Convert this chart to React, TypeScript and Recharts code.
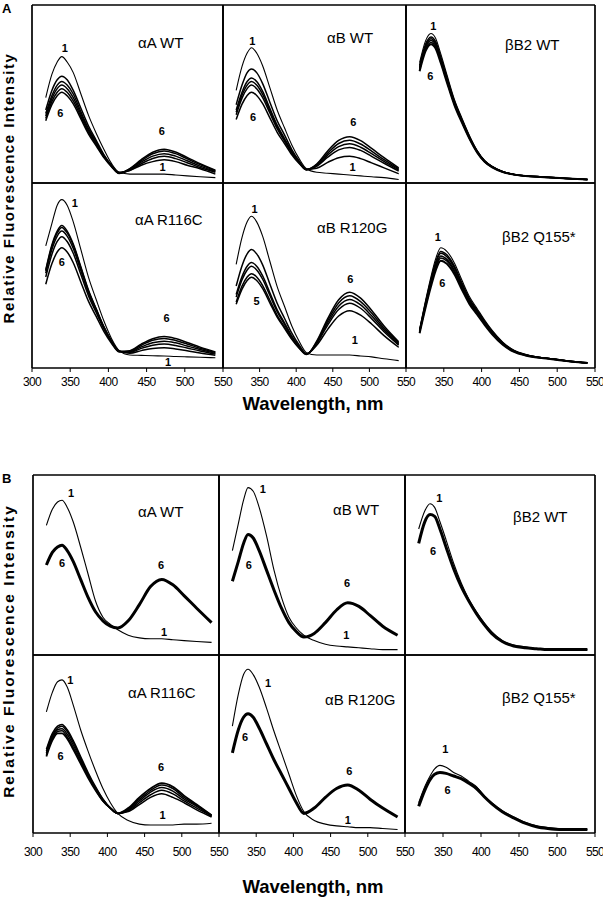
import { LineChart, Line, XAxis, YAxis, ReferenceDot } from "recharts"

const WL = [318, 326, 333, 339, 346, 354, 364, 374, 384, 394, 404, 414, 428, 443, 458, 473, 488, 503, 520, 540]
const X_TICKS_FIRST = [300, 350, 400, 450, 500, 550]
const X_TICKS_REST = [350, 400, 450, 500, 550]

// intensities as % of panel height, curves 1..6
// panel A
const A_aA_WT = [
  [48, 61, 68, 71, 68, 62, 50, 38, 28, 19, 11, 6, 5, 5, 5, 5, 4.5, 4, 3.5, 3],
  [41, 52, 58, 60, 58, 52, 42, 32, 24, 16, 10, 6, 7, 10, 12, 13, 12, 10, 8, 5],
  [39, 49, 55, 57, 55, 50, 40, 30.5, 23, 15.7, 9.8, 5.6, 7.2, 10.8, 13.8, 15, 13.7, 11.4, 8.7, 6],
  [37.7, 47.4, 53, 55, 53, 48, 38.7, 29.5, 22.4, 15.2, 9.6, 5.5, 7.5, 11.7, 15.1, 16.5, 15.1, 12.5, 9.5, 6.5],
  [36.3, 45.7, 51, 53, 51, 46.1, 37.3, 28.5, 21.6, 14.8, 9.4, 5.5, 7.9, 12.5, 16.4, 18, 16.5, 13.6, 10.3, 6.9],
  [35, 44, 49, 51, 49, 44.4, 36, 27.5, 20.9, 14.3, 9.2, 5.4, 8.1, 13.1, 17.3, 19, 17.4, 14.4, 10.8, 7.2],
]
const A_aB_WT = [
  [52, 65.5, 73, 76, 73, 66, 53.6, 41, 31, 21.4, 13.7, 8, 6, 5.5, 5, 4.5, 4, 3.5, 3, 2],
  [44, 55, 62, 64, 62, 56, 45.4, 35, 27, 18.8, 12.4, 7.7, 8.3, 11.6, 14.2, 15, 13.7, 11.3, 8.5, 5.2],
  [41, 51, 57, 59, 57, 51.6, 42, 32.5, 25, 17.7, 11.8, 7.6, 9.4, 14.5, 18.6, 20, 18.3, 15, 11.1, 6.7],
  [39.7, 49.4, 55, 57, 55, 49.9, 40.7, 31.5, 24.4, 17.2, 11.6, 7.5, 9.9, 15.7, 20.4, 22, 20.1, 16.5, 12.1, 7.3],
  [38.3, 47.7, 53, 55, 53, 48.1, 39.3, 30.5, 23.6, 16.8, 11.4, 7.5, 10.3, 16.8, 22.2, 24, 21.9, 17.9, 13.1, 7.9],
  [35.7, 44.3, 49.2, 51, 49.2, 44.7, 36.6, 28.5, 22.2, 15.9, 11, 7.4, 10.7, 18, 23.9, 26, 23.8, 19.4, 14.2, 8.5],
]
const A_bB2_WT = [
  [67.6, 80, 84, 81.5, 72.5, 61, 47, 36.4, 26.6, 18.4, 12.7, 9.4, 6.5, 4.9, 4, 3.6, 3.2, 2.8, 2.4, 2],
  [66, 78, 82, 79.6, 70.8, 59.6, 46, 35.6, 26, 18, 12.4, 9.2, 6.4, 4.8, 4, 3.6, 3.2, 2.8, 2.4, 2],
  [65.2, 77, 81, 78.6, 70, 58.9, 45.5, 35.2, 25.7, 17.8, 12.3, 9.1, 6.3, 4.8, 4, 3.6, 3.2, 2.8, 2.4, 2],
  [64.4, 76.1, 80, 77.7, 69.1, 58.2, 44.9, 34.8, 25.4, 17.6, 12.1, 9, 6.3, 4.7, 4, 3.6, 3.2, 2.8, 2.4, 2],
  [63.6, 75.2, 79, 76.7, 68.2, 57.4, 44.4, 34.3, 25.1, 17.4, 12, 8.9, 6.2, 4.7, 3.9, 3.5, 3.1, 2.8, 2.4, 2],
  [62.8, 74.2, 78, 75.7, 67.4, 56.7, 43.8, 33.9, 24.8, 17.2, 11.9, 8.8, 6.2, 4.7, 3.9, 3.5, 3.1, 2.8, 2.4, 2],
]
const A_aA_R116C = [
  [66, 78, 88, 91, 88, 79, 64, 49, 37, 25.5, 16, 9.5, 7, 6.8, 6.6, 6.5, 6.2, 6, 5.8, 5.5],
  [53, 66.5, 74, 77, 74, 67, 54.6, 42, 32, 22.4, 14.7, 9.1, 8, 9.4, 10.6, 11, 10.3, 9.3, 8.1, 6.9],
  [52.5, 65.7, 73, 76, 73, 66.3, 54, 41.5, 31.8, 22.2, 14.6, 9.1, 8.4, 10.6, 12.3, 13, 12.2, 10.8, 9.2, 7.5],
  [51.2, 64, 71.3, 74, 71.3, 64.6, 52.6, 40.5, 31.1, 21.7, 14.4, 9, 8.8, 11.4, 13.6, 14.5, 13.6, 11.9, 10, 7.9],
  [49.2, 61.4, 68.4, 71, 68.4, 62, 50.5, 39, 30, 21.1, 14, 8.9, 9.1, 12.3, 15, 16, 14.9, 13, 10.7, 8.4],
  [45.3, 56.3, 62.7, 65, 62.7, 56.9, 46.4, 36, 27.9, 19.8, 13.4, 8.7, 9.3, 12.9, 15.8, 17, 15.9, 13.8, 11.3, 8.7],
]
const A_aB_R120G = [
  [56, 70.6, 79, 82, 79, 71.4, 57.7, 44, 33.4, 22.7, 14.4, 8.3, 7, 7, 7, 7, 6.5, 6, 5, 4],
  [44.3, 55.3, 61.7, 64, 61.7, 55.9, 45.4, 35, 26.9, 18.8, 12.4, 7.7, 12.3, 20.9, 28.1, 31, 28.6, 23.8, 17.5, 11.2],
  [39.7, 49.4, 55, 57, 55, 49.9, 40.7, 31.5, 24.4, 17.2, 11.6, 7.5, 13.2, 23.2, 31.6, 35, 32.3, 26.7, 19.6, 12.4],
  [38.3, 47.7, 53, 55, 53, 48.1, 39.3, 30.5, 23.6, 16.8, 11.4, 7.5, 13.6, 24.4, 33.4, 37, 34.1, 28.2, 20.6, 13],
  [35.7, 44.3, 49.2, 51, 49.2, 44.7, 36.6, 28.5, 22.2, 15.9, 11, 7.4, 14, 25.6, 35.2, 39, 35.9, 29.7, 21.6, 13.6],
  [34.4, 42.6, 47.3, 49, 47.3, 43, 35.2, 27.5, 21.5, 15.5, 10.7, 7.3, 14.5, 26.7, 36.9, 41, 37.8, 31.2, 22.7, 14.2],
]
const A_bB2_Q155 = [
  [20.9, 36.7, 49.3, 58.7, 65, 63.1, 56.8, 47.4, 38.5, 32.2, 25.9, 20.3, 14, 9.6, 7.4, 6, 5.3, 4.5, 3.6, 2.8],
  [20.3, 35.6, 47.8, 56.9, 63, 61.2, 55.1, 45.9, 37.4, 31.3, 25.2, 19.7, 13.6, 9.3, 7.2, 5.9, 5.2, 4.4, 3.5, 2.8],
  [20, 35, 47, 56, 62, 60.2, 54.2, 45.2, 36.8, 30.8, 24.8, 19.4, 13.4, 9.2, 7.1, 5.9, 5.2, 4.4, 3.5, 2.8],
  [19.6, 34.2, 45.9, 54.7, 60.5, 58.7, 52.9, 44.1, 35.9, 30.1, 24.2, 19, 13.1, 9, 7, 5.8, 5.1, 4.3, 3.5, 2.8],
  [19.3, 33.6, 45.1, 53.8, 59.5, 57.8, 52, 43.4, 35.4, 29.6, 23.9, 18.7, 12.9, 8.9, 6.9, 5.8, 5.1, 4.3, 3.4, 2.7],
  [18.8, 32.8, 44, 52.4, 58, 56.3, 50.7, 42.3, 34.5, 28.9, 23.3, 18.2, 12.6, 8.7, 6.8, 5.7, 5, 4.2, 3.4, 2.7],
]

// panel B (curves 2-5 sit on top of 6 except in aA R116C)
const B_aA_WT = [
  [72, 81, 85, 86, 82, 74, 60, 45, 30, 21, 17, 14, 11, 9.5, 9, 9, 8.5, 8, 7.5, 7],
  [50, 57, 60, 61, 58, 52, 42, 32, 24, 19, 16, 15, 19, 28, 38, 42, 39, 33, 26, 18],
]
const B_aB_WT = [
  [58, 73, 86, 93, 91, 82, 66, 47, 32, 21, 15, 11, 8, 6, 5, 4.5, 4, 3.5, 3, 3],
  [41, 52, 62, 67, 65, 58, 47, 36, 26, 18, 13, 10, 12, 18, 25, 29, 27, 22, 16, 11],
]
const B_bB2_WT = [
  [70, 80, 84, 82, 74, 64, 51, 40, 31, 24, 18, 13, 8, 5.5, 4.5, 3.5, 3, 3, 3, 3],
  [62, 74, 78, 77, 70, 60, 48, 38, 30, 23, 17, 12, 7.5, 5, 4, 3.5, 3, 3, 3, 3],
]
const B_aA_R116C = [
  [68, 79, 85, 86, 82, 72, 58, 46, 35, 25, 17, 11, 7, 5, 4.5, 4.5, 4.5, 5, 5, 5.5],
  [47, 56, 60, 61, 58, 52, 43, 34, 26, 19, 14, 11, 12, 16, 20, 22, 20, 17, 13, 9],
  [46, 55, 59, 60, 57, 51, 42, 33, 25.5, 19, 14, 11, 12.5, 17, 21.5, 24, 22, 18, 14, 9.5],
  [45, 54, 58, 58.5, 55.5, 49.5, 41, 32.5, 25, 18.5, 14, 11, 13, 18, 23, 25.5, 23.5, 19, 15, 9.5],
  [44, 53, 57, 57.5, 54, 48, 40, 32, 24.5, 18, 14, 11, 13.5, 19, 24, 27, 25, 20, 15.5, 10],
  [43, 52, 56, 56, 53, 47, 39, 31, 24, 18, 14, 11, 14, 20, 25, 28, 26, 21, 16, 10],
]
const B_aB_R120G = [
  [60, 78, 89, 92, 89, 82, 70, 57, 45, 33, 21, 12, 7, 5, 4, 3.5, 3, 3, 2.5, 2],
  [45, 58, 65, 67, 65, 59, 50, 41, 33, 25, 17, 11, 14, 20, 25, 27, 24, 19, 14, 9],
]
const B_bB2_Q155 = [
  [17, 26, 32, 36, 38, 37, 34, 32, 29, 26, 21, 17, 12.5, 9, 6, 4, 3, 2.5, 2, 2],
  [15, 24, 30, 33, 34, 33.5, 32, 30.5, 28, 25, 20.5, 16.5, 12, 8.5, 5.5, 3.5, 2.5, 2, 2, 2],
]

// curve number labels: [text, nm, %]
type Note = [string, number, number]
const N_A_aA_WT: Note[] = [["1", 343, 76], ["6", 337, 39], ["6", 470, 29], ["1", 471, 9]]
const N_A_aB_WT: Note[] = [["1", 340, 80], ["6", 341, 37], ["6", 478, 34], ["1", 477, 9]]
const N_A_bB2_WT: Note[] = [["1", 336, 88], ["6", 332, 60]]
const N_A_aA_R116C: Note[] = [["1", 356, 89], ["6", 339, 57], ["6", 476, 27], ["1", 478, 3]]
const N_A_aB_R120G: Note[] = [["1", 343, 86], ["5", 346, 36], ["6", 474, 48], ["1", 480, 15]]
const N_A_bB2_Q155: Note[] = [["1", 342, 71], ["6", 348, 46]]
const N_B_aA_WT: Note[] = [["1", 351, 90], ["6", 339, 51], ["6", 472, 50], ["1", 476, 13]]
const N_B_aB_WT: Note[] = [["1", 359, 92], ["6", 340, 50], ["6", 472, 40], ["1", 471, 11]]
const N_B_bB2_WT: Note[] = [["1", 345, 87], ["6", 337, 58]]
const N_B_aA_R116C: Note[] = [["1", 350, 86], ["6", 337, 43], ["6", 472, 37], ["1", 474, 10]]
const N_B_aB_R120G: Note[] = [["1", 366, 84], ["6", 335, 54], ["6", 475, 35], ["1", 473, 7]]
const N_B_bB2_Q155: Note[] = [["1", 353, 47], ["6", 356, 24]]

const TITLES = ["αA WT", "αB WT", "βB2 WT", "αA R116C", "αB R120G", "βB2 Q155*"]

const ML = 14
const PL = 8
const PT = 2
const PR = 14
const INK = "#000"
const SANS = "'Liberation Sans', Arial, sans-serif"

type PanelProps = {
  box: [number, number, number, number]
  curves: number[][]
  notes: Note[]
  yTicks: number[]
  bottom: boolean
  first: boolean
  tickGap: number
  thick: number
}

function Spectrum({ box, curves, notes, yTicks, bottom, first, tickGap, thick }: PanelProps) {
  const [x0, y0, x1, y1] = box
  const w = x1 - x0
  const h = y1 - y0
  const xh = bottom ? 30 : 1
  const rows = WL.map((wl, i) => {
    const r: Record<string, number> = { wl }
    curves.forEach((c, k) => (r["c" + (k + 1)] = c[i]))
    return r
  })
  const line = { stroke: INK, strokeWidth: 1.7 }
  return (
    <div style={{ position: "absolute", left: x0 - PL - ML, top: y0 - PT - 1 }}>
      <LineChart
        width={ML + PL + w + 1 + PR}
        height={PT + 1 + h + xh + 2}
        data={rows}
        margin={{ top: PT, right: PR, bottom: 2, left: ML }}
      >
        <XAxis
          dataKey="wl"
          type="number"
          domain={[300, 550]}
          ticks={first ? X_TICKS_FIRST : X_TICKS_REST}
          interval={0}
          height={xh}
          axisLine={line}
          tickLine={bottom ? { stroke: INK } : false}
          tickSize={4}
          tickMargin={tickGap}
          tick={bottom ? { fill: INK, fontSize: 12, fontFamily: SANS, letterSpacing: -0.6 } : false}
          allowDataOverflow
        />
        <XAxis xAxisId="top" orientation="top" type="number" domain={[300, 550]} height={1} axisLine={line} tick={false} tickLine={false} />
        <YAxis
          type="number"
          domain={[0, 100]}
          ticks={yTicks}
          interval={0}
          width={PL}
          axisLine={line}
          tickLine={{ stroke: INK }}
          tickSize={4}
          tick={false}
          allowDataOverflow
        />
        <YAxis yAxisId="right" orientation="right" type="number" domain={[0, 100]} width={1} axisLine={line} tick={false} tickLine={false} />
        {curves.map((_, k) => (
          <Line
            key={k}
            dataKey={"c" + (k + 1)}
            type="monotone"
            dot={false}
            stroke={INK}
            strokeWidth={k === 0 ? 1.1 : k === curves.length - 1 ? thick : 1.5}
            isAnimationActive={false}
          />
        ))}
        {notes.map(([t, x, y], i) => (
          <ReferenceDot
            key={"n" + i}
            x={x}
            y={y}
            r={0}
            fill="none"
            stroke="none"
            ifOverflow="visible"
            label={{ value: t, position: "center", fontSize: 11, fontWeight: 700, fontFamily: SANS, fill: INK }}
          />
        ))}
      </LineChart>
    </div>
  )
}

const A_COLS: [number, number][] = [[32, 223], [223, 406], [406, 595]]
const A_ROWS: [number, number][] = [[5, 183], [183, 368]]
const B_COLS: [number, number][] = [[33, 219], [219, 405], [405, 595]]
const B_ROWS: [number, number][] = [[475, 655], [655, 833]]

const PANELS = [
  { curves: A_aA_WT, notes: N_A_aA_WT, col: 0, row: 0, set: "A", y: [0, 20, 40, 60, 80], thick: 1.5 },
  { curves: A_aB_WT, notes: N_A_aB_WT, col: 1, row: 0, set: "A", y: [0, 20, 40, 60, 80], thick: 1.5 },
  { curves: A_bB2_WT, notes: N_A_bB2_WT, col: 2, row: 0, set: "A", y: [0, 14.6, 29.2, 43.8, 58.4, 73, 87.6], thick: 2 },
  { curves: A_aA_R116C, notes: N_A_aA_R116C, col: 0, row: 1, set: "A", y: [0, 19.5, 39, 58.5, 78], thick: 1.5 },
  { curves: A_aB_R120G, notes: N_A_aB_R120G, col: 1, row: 1, set: "A", y: [0, 19.5, 39, 58.5, 78], thick: 1.5 },
  { curves: A_bB2_Q155, notes: N_A_bB2_Q155, col: 2, row: 1, set: "A", y: [0, 28, 56, 84], thick: 2 },
  { curves: B_aA_WT, notes: N_B_aA_WT, col: 0, row: 0, set: "B", y: [0, 33.3, 66.7], thick: 3 },
  { curves: B_aB_WT, notes: N_B_aB_WT, col: 1, row: 0, set: "B", y: [0, 33.3, 66.7], thick: 3 },
  { curves: B_bB2_WT, notes: N_B_bB2_WT, col: 2, row: 0, set: "B", y: [0, 33.3, 66.7], thick: 3 },
  { curves: B_aA_R116C, notes: N_B_aA_R116C, col: 0, row: 1, set: "B", y: [0, 25, 50, 75], thick: 1.8 },
  { curves: B_aB_R120G, notes: N_B_aB_R120G, col: 1, row: 1, set: "B", y: [0, 25, 50, 75], thick: 3 },
  { curves: B_bB2_Q155, notes: N_B_bB2_Q155, col: 2, row: 1, set: "B", y: [0, 25, 50, 75], thick: 3 },
]

// title anchors (left x, baseline y), same order as PANELS
const TITLE_POS: [number, number][] = [
  [138, 48], [327, 43], [505, 50], [135, 225], [317, 233], [502, 242],
  [138, 517], [333, 515], [513, 522], [128, 698], [325, 705], [502, 703],
]

export default function App() {
  return (
    <div style={{ position: "absolute", left: 0, top: 0, width: 603, height: 900, background: "#fff", overflow: "hidden" }}>
      {PANELS.map((p, i) => {
        const cols = p.set === "A" ? A_COLS : B_COLS
        const rows = p.set === "A" ? A_ROWS : B_ROWS
        const [x0, x1] = cols[p.col]
        const [y0, y1] = rows[p.row]
        return (
          <Spectrum
            key={i}
            box={[x0, y0, x1, y1]}
            curves={p.curves}
            notes={p.notes}
            yTicks={p.y}
            bottom={p.row === 1}
            first={p.col === 0}
            tickGap={p.set === "A" ? 5 : 10}
            thick={p.thick}
          />
        )
      })}
      <svg width={603} height={900} style={{ position: "absolute", left: 0, top: 0, pointerEvents: "none" }}>
        {TITLE_POS.map(([x, y], i) => (
          <text key={i} x={x} y={y} fontSize={15} fontFamily={SANS} fill={INK}>
            {TITLES[i % 6]}
          </text>
        ))}
        <text x={2} y={13} fontSize={13} fontWeight={700} fontFamily={SANS}>A</text>
        <text x={2} y={483} fontSize={13} fontWeight={700} fontFamily={SANS}>B</text>
        <text
          transform="translate(8,188) rotate(-90)"
          textAnchor="middle"
          dominantBaseline="central"
          fontSize={15}
          fontWeight={700}
          letterSpacing={1.5}
          fontFamily={SANS}
        >
          Relative Fluorescence Intensity
        </text>
        <text
          transform="translate(8,651) rotate(-90)"
          textAnchor="middle"
          dominantBaseline="central"
          fontSize={15.5}
          fontWeight={700}
          letterSpacing={2}
          fontFamily={SANS}
        >
          Relative Fluorescence Intensity
        </text>
        <text x={313} y={410} textAnchor="middle" fontSize={18.5} fontWeight={700} fontFamily={SANS}>
          Wavelength, nm
        </text>
        <text x={313} y={893} textAnchor="middle" fontSize={18.5} fontWeight={700} fontFamily={SANS}>
          Wavelength, nm
        </text>
      </svg>
    </div>
  )
}
